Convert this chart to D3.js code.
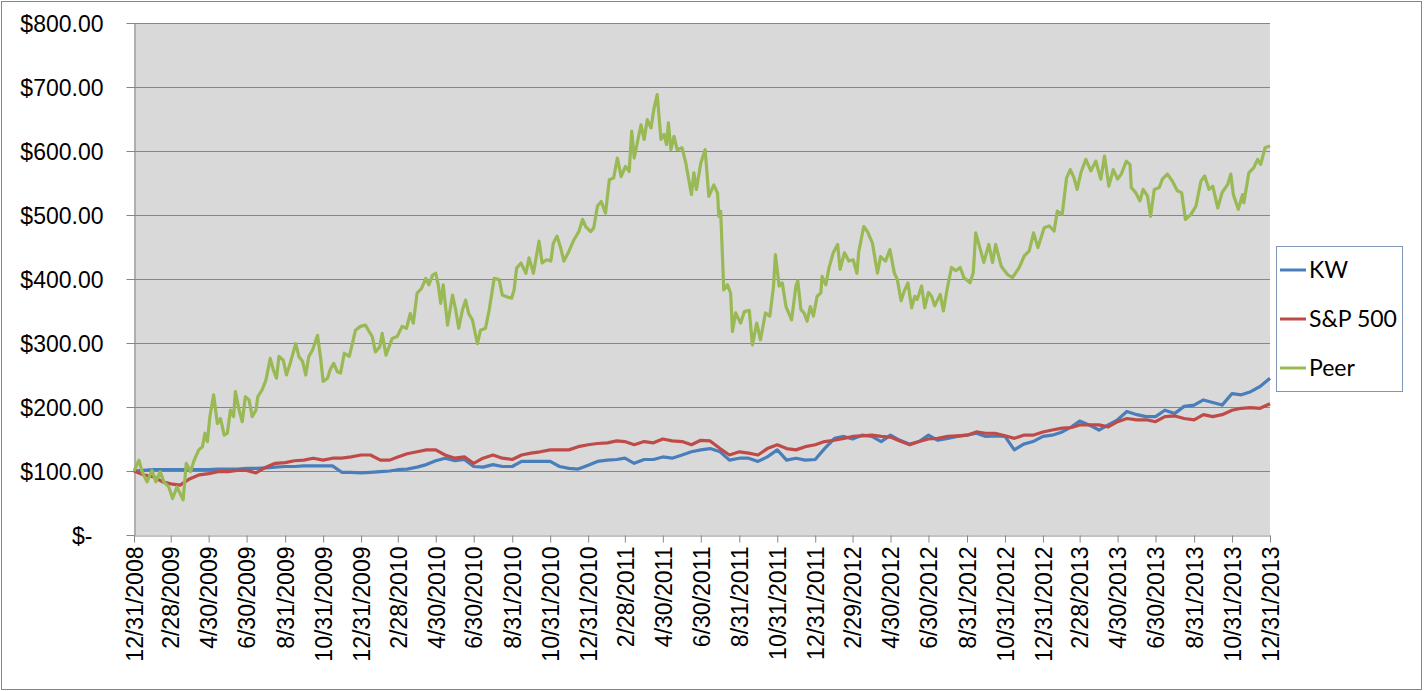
<!DOCTYPE html>
<html>
<head>
<meta charset="utf-8">
<script src="https://cdn.jsdelivr.net/npm/d3@7"></script>
<style>
  body { margin: 0; background: #fff; }
  svg { display: block; font-family: Lato, "Open Sans", sans-serif; }
</style>
</head>
<body>
<svg id="chart" width="1424" height="691"></svg>
<script>
// semi-monthly dates used by KW and S&P 500
const dates = ("2008-12-31 " +
  "2009-01-15 2009-01-31 2009-02-15 2009-02-28 2009-03-15 2009-03-31 2009-04-15 2009-04-30 2009-05-15 2009-05-31 2009-06-15 2009-06-30 " +
  "2009-07-15 2009-07-31 2009-08-15 2009-08-31 2009-09-15 2009-09-30 2009-10-15 2009-10-31 2009-11-15 2009-11-30 2009-12-15 2009-12-31 " +
  "2010-01-15 2010-01-31 2010-02-15 2010-02-28 2010-03-15 2010-03-31 2010-04-15 2010-04-30 2010-05-15 2010-05-31 2010-06-15 2010-06-30 " +
  "2010-07-15 2010-07-31 2010-08-15 2010-08-31 2010-09-15 2010-09-30 2010-10-15 2010-10-31 2010-11-15 2010-11-30 2010-12-15 2010-12-31 " +
  "2011-01-15 2011-01-31 2011-02-15 2011-02-28 2011-03-15 2011-03-31 2011-04-15 2011-04-30 2011-05-15 2011-05-31 2011-06-15 2011-06-30 " +
  "2011-07-15 2011-07-31 2011-08-15 2011-08-31 2011-09-15 2011-09-30 2011-10-15 2011-10-31 2011-11-15 2011-11-30 2011-12-15 2011-12-31 " +
  "2012-01-15 2012-01-31 2012-02-15 2012-02-29 2012-03-15 2012-03-31 2012-04-15 2012-04-30 2012-05-15 2012-05-31 2012-06-15 2012-06-30 " +
  "2012-07-15 2012-07-31 2012-08-15 2012-08-31 2012-09-15 2012-09-30 2012-10-15 2012-10-31 2012-11-15 2012-11-30 2012-12-15 2012-12-31 " +
  "2013-01-15 2013-01-31 2013-02-15 2013-02-28 2013-03-15 2013-03-31 2013-04-15 2013-04-30 2013-05-15 2013-05-31 2013-06-15 2013-06-30 " +
  "2013-07-15 2013-07-31 2013-08-15 2013-08-31 2013-09-15 2013-09-30 2013-10-15 2013-10-31 2013-11-15 2013-11-30 2013-12-15 2013-12-31").split(" ");

const kw = [100,
  101, 102, 102, 102, 102, 102, 102, 102, 103, 103, 103, 104,
  104, 105, 106, 107, 107, 108, 108, 108, 108, 98, 98, 97,
  98, 99, 100, 102, 103, 106, 110, 116, 120, 116, 118, 107,
  106, 110, 107, 107, 115, 115, 115, 115, 107, 104, 103, 109,
  115, 117, 118, 120, 112, 118, 118, 122, 120, 125, 130, 133,
  135, 130, 117, 120, 120, 115, 122, 133, 117, 120, 117, 118,
  135, 151, 154, 150, 156, 154, 146, 156, 148, 142, 146, 156,
  148, 151, 154, 156, 159, 154, 155, 154, 133, 142, 146, 154,
  156, 161, 169, 178, 172, 164, 172, 180, 193, 188, 185, 185,
  195, 190, 201, 203, 211, 207, 203, 221, 219, 224, 232, 245];

const sp500 = [100,
  94, 91, 83, 80, 78, 88, 94, 96, 99, 99, 101, 101,
  97, 106, 112, 113, 116, 117, 120, 117, 120, 120, 122, 125,
  125, 117, 117, 122, 127, 130, 133, 133, 125, 120, 122, 112,
  120, 125, 120, 118, 125, 128, 130, 133, 133, 133, 138, 141,
  143, 144, 147, 146, 141, 146, 144, 150, 147, 146, 141, 148,
  147, 135, 125, 130, 128, 125, 135, 141, 135, 133, 138, 141,
  146, 148, 151, 154, 155, 156, 154, 153, 147, 141, 146, 150,
  151, 154, 155, 156, 161, 159, 159, 155, 151, 156, 156, 161,
  164, 167, 168, 172, 172, 172, 169, 177, 182, 180, 180, 177,
  185, 186, 182, 180, 188, 185, 188, 195, 198, 199, 198, 205];

// Peer moves a lot, so it is read at its turning points: days after 12/31/2008
const peerDays = [0, 8, 13, 21, 29, 35, 42, 48, 56, 62, 69, 74, 79, 84, 91, 96, 104, 110, 114, 118,
  122, 128, 134, 139, 145, 150, 155, 160, 163, 169, 174, 179, 185, 190, 196, 199, 206, 212, 219, 224,
  229, 233, 240, 245, 251, 260, 265, 271, 276, 281, 287, 295, 300, 304, 311, 316, 321, 327, 332, 338,
  346, 351, 356, 364, 372, 378, 383, 388, 395, 399, 405, 410, 415, 423, 431, 438, 444, 449, 455, 462,
  469, 474, 480, 485, 489, 493, 497, 504, 512, 517, 522, 528, 533, 538, 544, 552, 557, 565, 571, 579,
  587, 592, 600, 607, 611, 615, 622, 630, 635, 642, 651, 656, 663, 670, 674, 680, 686, 691, 699, 707,
  715, 721, 726, 734, 739, 745, 751, 758, 764, 771, 777, 783, 790, 796, 800, 804, 810, 815, 820, 825,
  831, 836, 841, 847, 852, 856, 859, 863, 868, 873, 881, 887, 896, 900, 904, 911, 918, 924, 932, 938,
  940, 943, 948, 954, 959, 962, 967, 975, 981, 989, 994, 1001, 1007, 1015, 1022, 1028, 1031, 1037, 1042, 1048,
  1057, 1064, 1067, 1072, 1077, 1082, 1087, 1092, 1098, 1104, 1106, 1112, 1117, 1124, 1131, 1135, 1142, 1149, 1156, 1162,
  1165, 1173, 1179, 1187, 1195, 1200, 1208, 1215, 1222, 1227, 1233, 1238, 1244, 1250, 1255, 1259, 1266, 1271, 1277, 1282,
  1287, 1296, 1301, 1307, 1314, 1321, 1328, 1334, 1344, 1349, 1353, 1361, 1366, 1374, 1380, 1385, 1394, 1404, 1412, 1423,
  1431, 1439, 1446, 1453, 1463, 1471, 1479, 1484, 1492, 1499, 1505, 1511, 1516, 1522, 1530, 1538, 1546, 1554, 1560, 1567,
  1574, 1581, 1587, 1595, 1601, 1603, 1610, 1617, 1622, 1629, 1634, 1640, 1648, 1653, 1661, 1669, 1677, 1684, 1690, 1699,
  1707, 1715, 1721, 1728, 1734, 1742, 1749, 1758, 1763, 1767, 1775, 1782, 1784, 1792, 1800, 1806, 1811, 1818, 1826];

const peer = [100, 117, 99, 83, 101, 83, 99, 83, 75, 57, 75, 65, 55, 112, 99, 115, 133, 138, 159, 146,
  185, 219, 174, 182, 156, 159, 195, 185, 224, 195, 177, 216, 211, 185, 195, 216, 227, 242, 276, 258,
  245, 279, 273, 250, 268, 299, 279, 271, 250, 279, 289, 312, 276, 240, 245, 260, 268, 255, 253, 284,
  279, 299, 320, 326, 328, 318, 310, 286, 294, 315, 281, 294, 307, 310, 326, 323, 346, 331, 378, 385,
  401, 391, 406, 409, 391, 362, 391, 328, 375, 352, 323, 352, 367, 346, 336, 299, 320, 323, 352, 401,
  399, 375, 372, 370, 383, 417, 425, 409, 433, 409, 459, 425, 430, 428, 456, 467, 448, 428, 443, 461,
  474, 493, 482, 474, 480, 514, 521, 503, 555, 558, 589, 560, 576, 568, 631, 589, 618, 641, 618, 649,
  636, 667, 688, 618, 626, 610, 644, 602, 623, 602, 605, 581, 532, 566, 540, 581, 602, 529, 547, 534,
  498, 506, 383, 391, 378, 318, 347, 331, 349, 351, 297, 331, 305, 347, 342, 389, 438, 389, 394, 357,
  336, 389, 397, 352, 347, 334, 357, 342, 373, 378, 404, 391, 417, 441, 454, 415, 441, 428, 430, 409,
  443, 482, 474, 456, 409, 435, 428, 446, 410, 399, 366, 381, 394, 355, 373, 368, 389, 355, 379, 373,
  358, 376, 350, 384, 418, 413, 418, 402, 394, 410, 472, 444, 426, 454, 426, 454, 420, 407, 402, 418,
  436, 444, 472, 449, 480, 483, 475, 506, 501, 558, 571, 558, 540, 566, 587, 569, 584, 556, 592, 545,
  571, 556, 564, 584, 579, 543, 535, 522, 540, 530, 498, 540, 543, 556, 564, 553, 538, 535, 493, 501,
  514, 553, 561, 540, 545, 511, 535, 548, 564, 532, 509, 532, 519, 566, 574, 587, 579, 605, 608];

const xTickLabels = ["12/31/2008", "2/28/2009", "4/30/2009", "6/30/2009", "8/31/2009", "10/31/2009",
  "12/31/2009", "2/28/2010", "4/30/2010", "6/30/2010", "8/31/2010", "10/31/2010",
  "12/31/2010", "2/28/2011", "4/30/2011", "6/30/2011", "8/31/2011", "10/31/2011",
  "12/31/2011", "2/29/2012", "4/30/2012", "6/30/2012", "8/31/2012", "10/31/2012",
  "12/31/2012", "2/28/2013", "4/30/2013", "6/30/2013", "8/31/2013", "10/31/2013", "12/31/2013"];

const yTicks = [0, 100, 200, 300, 400, 500, 600, 700, 800];
const yTickLabels = ["$-", "$100.00", "$200.00", "$300.00", "$400.00", "$500.00", "$600.00", "$700.00", "$800.00"];

const seriesNames = ["KW", "S&P 500", "Peer"];
const seriesColors = ["#4a7ebb", "#be4b48", "#98b954"];

const parseIso = d3.timeParse("%Y-%m-%d");
const parseLabel = d3.timeParse("%m/%d/%Y");
const start = parseIso("2008-12-31");

const svg = d3.select("#chart");
const plot = { left: 134, right: 1270, top: 23, bottom: 535 };

const x = d3.scaleTime()
  .domain([start, parseIso("2013-12-31")])
  .range([plot.left, plot.right]);
const y = d3.scaleLinear().domain([0, 800]).range([plot.bottom, plot.top]);

// outer chart border
svg.append("rect")
  .attr("x", 1.5).attr("y", 1.5).attr("width", 1420).attr("height", 688)
  .attr("fill", "#fff").attr("stroke", "#868686");

svg.append("rect")
  .attr("x", plot.left).attr("y", plot.top)
  .attr("width", plot.right - plot.left).attr("height", plot.bottom - plot.top)
  .attr("fill", "#d9d9d9");

// gridlines
svg.append("g")
  .selectAll("line")
  .data(yTicks.filter(v => v > 0))
  .join("line")
  .attr("x1", plot.left).attr("x2", plot.right)
  .attr("y1", d => Math.round(y(d)) + 0.5).attr("y2", d => Math.round(y(d)) + 0.5)
  .attr("stroke", "#868686").attr("stroke-width", 1);

// y axis
const yAxis = svg.append("g")
  .attr("transform", `translate(${plot.left + 0.5},0)`)
  .call(d3.axisLeft(y).tickValues(yTicks).tickSize(8).tickSizeOuter(0)
    .tickFormat((d, i) => yTickLabels[i]));
yAxis.select(".domain").attr("stroke", "#868686");
yAxis.selectAll(".tick line").attr("stroke", "#868686");
yAxis.selectAll(".tick text")
  .attr("x", (d, i) => i === 0 ? -42 : -31)
  .attr("dy", "0.36em")
  .style("font-size", "23px").attr("fill", "#000");

// x axis
const xAxis = svg.append("g")
  .attr("transform", `translate(0,${plot.bottom + 0.5})`)
  .call(d3.axisBottom(x).tickValues(xTickLabels.map(parseLabel)).tickSize(7).tickSizeOuter(0)
    .tickFormat((d, i) => xTickLabels[i]));
xAxis.select(".domain").attr("stroke", "#868686");
xAxis.selectAll(".tick line").attr("stroke", "#868686");
xAxis.selectAll(".tick text")
  .attr("transform", "rotate(-90)")
  .attr("text-anchor", "end")
  .attr("x", -11).attr("y", 0).attr("dy", "0.36em")
  .style("font-size", "23px").attr("fill", "#000");

// series
const line = d3.line().x(d => x(d[0])).y(d => y(d[1]));
const series = [
  dates.map((d, i) => [parseIso(d), kw[i]]),
  dates.map((d, i) => [parseIso(d), sp500[i]]),
  peerDays.map((d, i) => [d3.timeDay.offset(start, d), peer[i]])
];

svg.append("g")
  .selectAll("path")
  .data(series)
  .join("path")
  .attr("d", line)
  .attr("fill", "none")
  .attr("stroke", (d, i) => seriesColors[i])
  .attr("stroke-width", 3.2)
  .attr("stroke-linejoin", "round");

// legend
const legend = svg.append("g");
legend.append("rect")
  .attr("x", 1276.5).attr("y", 246.5).attr("width", 126).attr("height", 145)
  .attr("fill", "#fff").attr("stroke", "#7f97b5");

const rows = legend.selectAll("g.item")
  .data(seriesNames)
  .join("g")
  .attr("class", "item")
  .attr("transform", (d, i) => `translate(1280,${270 + i * 49})`);
rows.append("line")
  .attr("x1", 0).attr("x2", 26)
  .attr("stroke", (d, i) => seriesColors[i]).attr("stroke-width", 3);
rows.append("text")
  .attr("x", 29).attr("dy", "0.36em")
  .style("font-size", "23px").attr("fill", "#000")
  .text(d => d);
</script>
</body>
</html>
